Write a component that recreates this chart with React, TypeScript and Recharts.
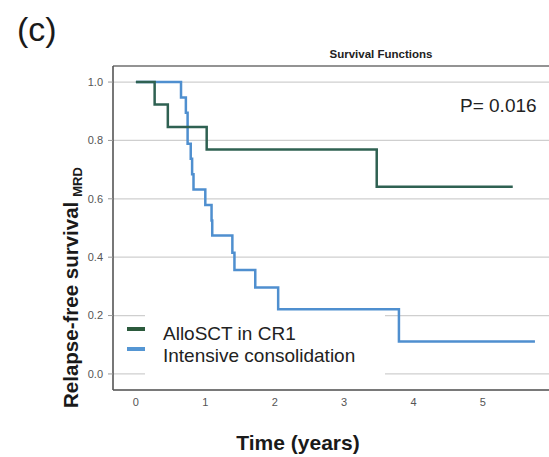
import React from 'react';
import {
  LineChart,
  Line,
  XAxis,
  YAxis,
  CartesianGrid,
  ReferenceLine,
  Legend,
  Customized,
} from 'recharts';

// Kaplan-Meier step points (time in years, survival fraction)
const alloTimes = [0, 0.27, 0.46, 1.02, 3.47, 5.43];
const alloSurv = [1, 0.923, 0.846, 0.769, 0.641, 0.641];

const consTimes = [0, 0.65, 0.72, 0.745, 0.79, 0.81, 0.83, 1.0, 1.09, 1.1, 1.39, 1.42, 1.72, 2.05, 3.79, 5.75];
const consSurv = [1, 0.947, 0.895, 0.789, 0.737, 0.684, 0.632, 0.579, 0.526, 0.474, 0.415, 0.356, 0.296, 0.222, 0.111, 0.111];

const xTicks = [0, 1, 2, 3, 4, 5];
const yTicks = [0, 0.2, 0.4, 0.6, 0.8, 1.0];

const SERIES = [
  { name: 'AlloSCT in CR1', color: '#2f6152', swatch: '#2b5a3c' },
  { name: 'Intensive consolidation', color: '#4f8fcf', swatch: '#5596d3' },
];

const FONT = '"Liberation Sans", Arial, sans-serif';

const alloData = alloTimes.map((t, i) => ({ t, s: alloSurv[i] }));
const consData = consTimes.map((t, i) => ({ t, s: consSurv[i] }));

function Annotations() {
  return (
    <g fontFamily={FONT}>
      <text x={17} y={41} fontSize={34} fill="#1a1a1a">(c)</text>
      <text x={381} y={58} fontSize={11.5} fontWeight="bold" fill="#222" textAnchor="middle">
        Survival Functions
      </text>
      <text x={460} y={112} fontSize={19} fill="#222">P= 0.016</text>
      <text x={298} y={450} fontSize={21} fontWeight="bold" fill="#1a1a1a" textAnchor="middle">
        Time (years)
      </text>
      <text
        x={78}
        y={408}
        transform="rotate(-90, 78, 408)"
        fontSize={20.5}
        fontWeight="bold"
        fill="#1a1a1a"
      >
        Relapse-free survival
        <tspan fontSize={13} dx={5} dy={4}>MRD</tspan>
      </text>
    </g>
  );
}

function LegendBox() {
  return (
    <div style={{ position: 'relative', width: 0, height: 0, fontFamily: FONT }}>
      <div
        style={{ position: 'absolute', left: 145, top: 311, width: 240, height: 70, background: '#fff' }}
      />
      {SERIES.map((s, i) => (
        <React.Fragment key={s.name}>
          <div
            style={{
              position: 'absolute',
              left: 127,
              top: i === 0 ? 327 : 346.5,
              width: 18,
              height: 4,
              background: s.swatch,
            }}
          />
          <div
            style={{
              position: 'absolute',
              left: 163,
              top: i === 0 ? 323 : 345,
              fontSize: 19,
              color: '#222',
              whiteSpace: 'nowrap',
              lineHeight: '22px',
            }}
          >
            {s.name}
          </div>
        </React.Fragment>
      ))}
    </div>
  );
}

export default function App() {
  return (
    <div
      style={{
        position: 'absolute',
        left: 0,
        top: 0,
        width: 549,
        height: 457,
        overflow: 'hidden',
        background: '#fff',
        fontFamily: FONT,
      }}
    >
      <LineChart width={600} height={457} margin={{ top: 66, right: 13, left: 0, bottom: 0 }}>
        <CartesianGrid vertical={false} stroke="#cfcfcf" strokeWidth={1.2} />
        <XAxis
          dataKey="t"
          type="number"
          domain={[-0.33, 6.5]}
          ticks={xTicks}
          allowDataOverflow
          height={67}
          tickLine={false}
          axisLine={{ stroke: '#555', strokeWidth: 1.6 }}
          tick={{ fill: '#555', fontSize: 11, fontFamily: FONT }}
        />
        <YAxis
          dataKey="s"
          type="number"
          domain={[-0.055, 1.055]}
          ticks={yTicks}
          allowDataOverflow
          width={113}
          tickSize={5}
          tickMargin={5}
          tickLine={{ stroke: '#999' }}
          axisLine={{ stroke: '#555', strokeWidth: 1.6 }}
          tick={{ fill: '#555', fontSize: 11, fontFamily: FONT }}
          tickFormatter={(v: number) => v.toFixed(1)}
        />
        <ReferenceLine y={1.055} stroke="#777" strokeWidth={1.4} />
        <Line
          data={consData}
          dataKey="s"
          name={SERIES[1].name}
          type="stepAfter"
          stroke={SERIES[1].color}
          strokeWidth={2.5}
          dot={false}
          isAnimationActive={false}
        />
        <Line
          data={alloData}
          dataKey="s"
          name={SERIES[0].name}
          type="stepAfter"
          stroke={SERIES[0].color}
          strokeWidth={2.5}
          dot={false}
          isAnimationActive={false}
        />
        <Legend
          layout="horizontal"
          verticalAlign="middle"
          align="center"
          wrapperStyle={{ left: 0, top: 0, width: 0, height: 0 }}
          content={() => <LegendBox />}
        />
        <Customized component={<Annotations />} />
      </LineChart>
    </div>
  );
}
